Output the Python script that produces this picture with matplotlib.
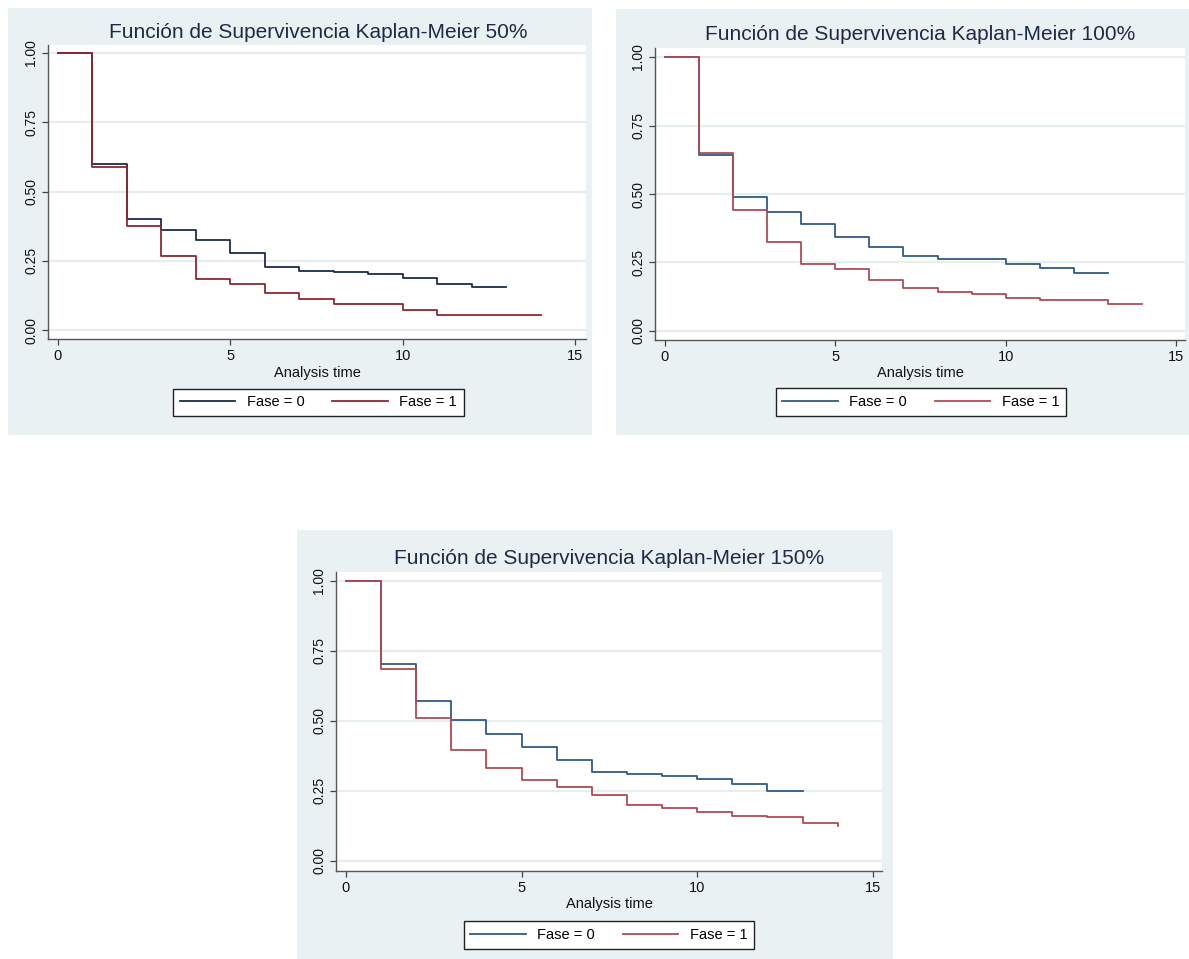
import numpy as np
import matplotlib
matplotlib.use("Agg")
import matplotlib.pyplot as plt
from matplotlib.patches import Rectangle

plt.rcParams['font.family'] = ['Liberation Sans', 'DejaVu Sans']

# ---- data (survival probability per unit time interval, last entry = value at end time)
titles = ["Función de Supervivencia Kaplan-Meier 50%",
          "Función de Supervivencia Kaplan-Meier 100%",
          "Función de Supervivencia Kaplan-Meier 150%"]
legend_labels = ["Fase = 0", "Fase = 1"]
xlabel = "Analysis time"
xticks = [0, 5, 10, 15]
yticks = [0.0, 0.25, 0.5, 0.75, 1.0]

fase0_50 = [1.0, 0.600, 0.400, 0.360, 0.325, 0.280, 0.227, 0.215, 0.210, 0.204,
            0.188, 0.168, 0.157, 0.157]
fase1_50 = [1.0, 0.590, 0.375, 0.268, 0.184, 0.167, 0.133, 0.113, 0.093, 0.093,
            0.073, 0.056, 0.056, 0.056, 0.056]

fase0_100 = [1.0, 0.643, 0.488, 0.435, 0.390, 0.344, 0.305, 0.274, 0.264, 0.264,
             0.246, 0.230, 0.212, 0.212]
fase1_100 = [1.0, 0.651, 0.441, 0.326, 0.246, 0.226, 0.187, 0.158, 0.141, 0.136,
             0.122, 0.112, 0.112, 0.100, 0.100]

fase0_150 = [1.0, 0.705, 0.571, 0.503, 0.452, 0.407, 0.361, 0.319, 0.309, 0.303,
             0.292, 0.273, 0.251, 0.251]
fase1_150 = [1.0, 0.687, 0.512, 0.396, 0.331, 0.289, 0.264, 0.235, 0.200, 0.189,
             0.174, 0.160, 0.156, 0.135, 0.123]

W, H = 1189, 959
fig = plt.figure(figsize=(W / 100, H / 100), dpi=100, facecolor='white')

BG = '#eaf1f3'
GRID = '#e6eef0'
TITLE_C = '#1e2b48'


def fx(px):
    return px / W


def fy(py):
    return 1 - py / H


panels = [
    # bg box (x0,y0,x1,y1), axes box (x0,y0,x1,y1), xlim, ylim, legend box, colors, data
    dict(bg=(8, 8, 592, 435), ax=(48, 45, 586, 339), xlim=(-0.29, 15.32), ylim=(-0.032, 1.029),
         leg=(174, 388, 463, 417), colors=('#1b2c4e', '#8a2a30'),
         data=(fase0_50, fase1_50), title=titles[0], title_xy=(318, 32), xl_y=373),
    dict(bg=(616, 9, 1189, 435), ax=(655, 48, 1185, 340), xlim=(-0.29, 15.26), ylim=(-0.033, 1.033),
         leg=(779, 388, 1063, 416), colors=('#2e5a88', '#b04a55'),
         data=(fase0_100, fase1_100), title=titles[1], title_xy=(920, 35), xl_y=373),
    dict(bg=(297, 530, 893, 959), ax=(336, 572, 882, 871), xlim=(-0.28, 15.26), ylim=(-0.036, 1.032),
         leg=(462, 921, 756, 949), colors=('#2e5a88', '#b04a55'),
         data=(fase0_150, fase1_150), title=titles[2], title_xy=(609, 558), xl_y=904),
]

for p in panels:
    bx0, by0, bx1, by1 = p['bg']
    fig.add_artist(Rectangle((fx(bx0), fy(by1)), fx(bx1 - bx0), (by1 - by0) / H,
                             transform=fig.transFigure, facecolor=BG, edgecolor='none', zorder=0))
    ax0, ay0, ax1, ay1 = p['ax']
    ax = fig.add_axes([fx(ax0), fy(ay1), fx(ax1 - ax0), (ay1 - ay0) / H])
    ax.set_facecolor('white')
    ax.set_xlim(*p['xlim'])
    ax.set_ylim(*p['ylim'])
    for s in ['top', 'right']:
        ax.spines[s].set_visible(False)
    for s in ['left', 'bottom']:
        ax.spines[s].set_color('#555555')
        ax.spines[s].set_linewidth(1.0)
    ax.set_yticks(yticks)
    ax.set_yticklabels([f"{v:.2f}" for v in yticks], rotation=90, va='center', fontsize=10)
    ax.set_xticks(xticks)
    ax.set_xticklabels([str(v) for v in xticks], fontsize=10.5)
    ax.tick_params(direction='out', length=4, width=0.9, color='#444444', labelcolor='#111111', pad=3)
    ax.grid(axis='y', color=GRID, lw=1.6)
    ax.set_axisbelow(True)

    lines = []
    for vals, col, lab in zip(p['data'], p['colors'], legend_labels):
        x = np.arange(len(vals))
        ln, = ax.plot(x, vals, drawstyle='steps-post', color=col, lw=1.3, label=lab)
        lines.append(ln)

    tx, ty = p['title_xy']
    fig.text(fx(tx), fy(ty), p['title'], ha='center', va='center', fontsize=15, color=TITLE_C)
    fig.text(fx((ax0 + ax1) / 2), fy(p['xl_y']), xlabel, ha='center', va='center',
             fontsize=10.5, color='#111111')

    lx0, ly0, lx1, ly1 = p['leg']
    leg = fig.legend(handles=lines, labels=legend_labels, ncol=2, loc='center',
                     bbox_to_anchor=(fx((lx0 + lx1) / 2), fy((ly0 + ly1) / 2)),
                     bbox_transform=fig.transFigure, fontsize=10.5, frameon=True,
                     fancybox=False, handlelength=3.8, handletextpad=0.8,
                     columnspacing=1.9, borderpad=0.45, borderaxespad=0)
    fr = leg.get_frame()
    fr.set_edgecolor('#222222')
    fr.set_linewidth(1.0)
    fr.set_facecolor('white')
    fr.set_alpha(1)

fig.savefig('out.png', dpi=100, facecolor='white')
